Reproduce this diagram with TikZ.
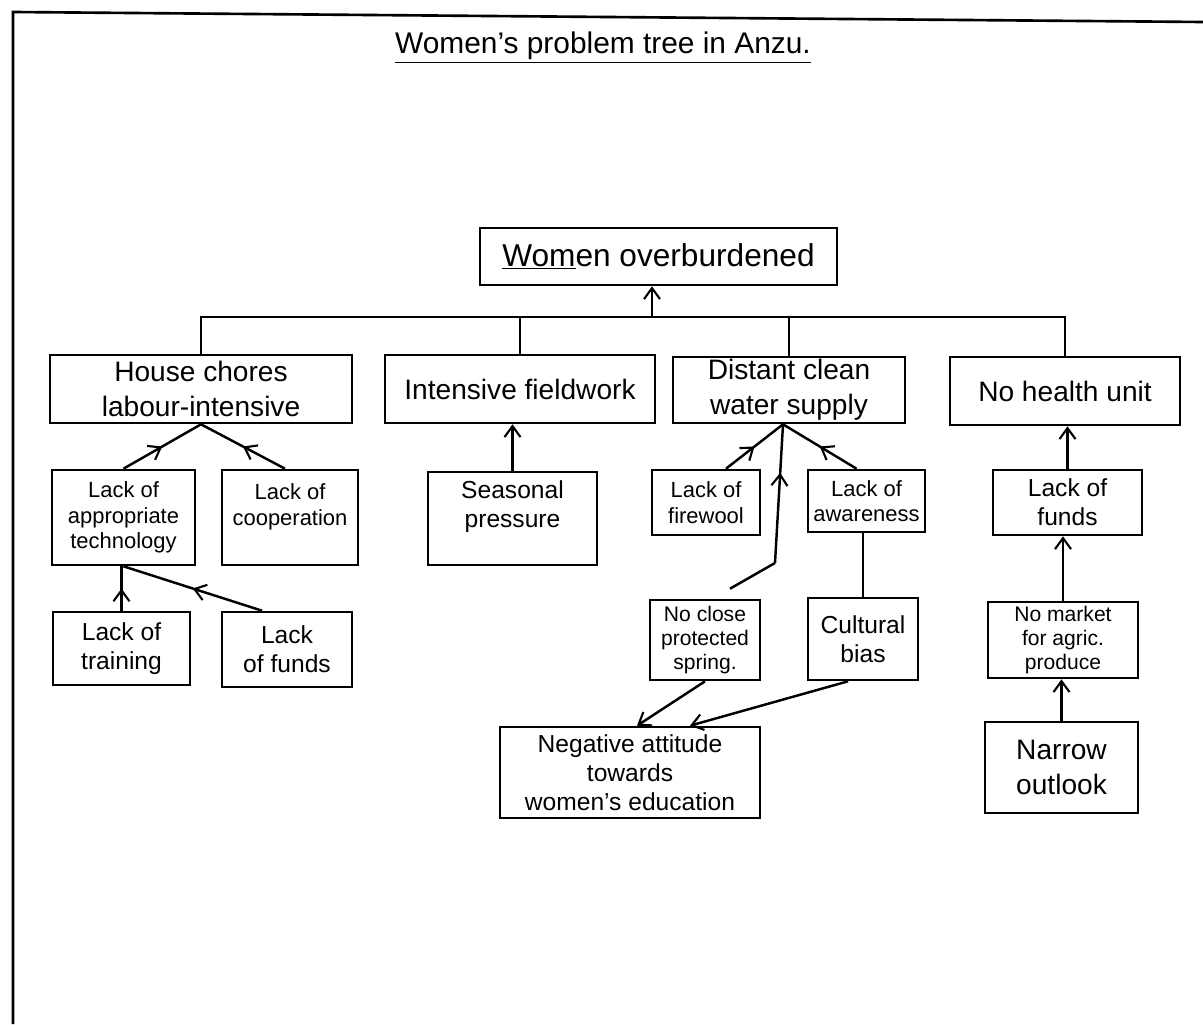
\documentclass[tikz,border=0pt]{standalone}
\usepackage{fontspec}
\setmainfont{Liberation Sans}
\usetikzlibrary{arrows.meta,calc,decorations.markings}
\tikzset{
  box/.style={draw,line width=1.5pt,inner sep=0pt,align=center},
  size/.style 2 args={minimum width=#1cm,minimum height=#2cm},
  big/.style={font=\fontsize{16}{20}\selectfont},
  mid/.style={font=\fontsize{14}{16.5}\selectfont},
  small/.style={font=\fontsize{12.5}{14.5}\selectfont},
  tiny/.style={font=\fontsize{12}{13.5}\selectfont},
  link/.style={line width=1.4pt},
  tip/.style={link,-{Straight Barb[length=2.2mm,width=3.2mm,line width=1.2pt]}},
  midtip/.style={link,postaction={decorate},
    decoration={markings,mark=at position #1 with {\arrow{Straight Barb[length=2.2mm,width=3.2mm,line width=1.2pt]}}}},
  midtip/.default=.5,
}

\begin{document}
\begin{tikzpicture}[x=0.02cm,y=-0.02cm]
  \useasboundingbox (0,0) rectangle (1203,1024);
  \draw[line width=1.5pt] (13,1024) -- (13,12) -- (1203,22);
  \node[font=\fontsize{17}{20}\selectfont] (title) at (603,48) {\underline{Women’s problem tree in Anzu.}};

  % ---------------- top problem ----------------
  \node[box,size={7.14}{1.14},font=\fontsize{18}{22}\selectfont] (root) at (658.5,256.5) {\underline{Wom}en overburdened};

  % ---------------- main causes ----------------
  \node[box,big,size={6.04}{1.36}] (house) at (201,389) {House chores\\labour-intensive};
  \node[box,big,size={5.4}{1.36}] (field) at (520,389) {Intensive fieldwork};
  \node[box,big,size={4.64}{1.32}] (water) at (789,390) {Distant clean\\water supply};
  \node[box,big,size={4.6}{1.36}] (health) at (1065,391) {No health unit};

  % ---------------- second level ----------------
  \node[box,small,size={2.86}{1.9}] (tech) at (123.5,517.5) {Lack of\\appropriate\\technology};
  \node[box,small,size={2.72}{1.9}] (coop) at (290,517.5) {Lack of\\cooperation\\\mbox{}};
  \node[box,mid,size={3.38}{1.86}] (season) at (512.5,518.5) {Seasonal\\pressure\\\mbox{}};
  \node[box,small,size={2.16}{1.3}] (firewood) at (706,502.5) {Lack of\\firewool};
  \node[box,small,size={2.34}{1.24}] (aware) at (866.5,501) {Lack of\\awareness};
  \node[box,mid,size={2.98}{1.3}] (fundsb) at (1067.5,502.5) {Lack of\\funds};

  % ---------------- third level ----------------
  \node[box,mid,size={2.74}{1.46}] (train) at (121.5,648.5) {Lack of\\training};
  \node[box,mid,size={2.6}{1.5}] (fundsa) at (287,649.5) {Lack\\of funds};
  \node[box,tiny,size={2.2}{1.6}] (spring) at (705,640) {No close\\protected\\spring.};
  \node[box,mid,size={2.2}{1.64}] (culture) at (863,639) {Cultural\\bias};
  \node[box,tiny,size={3.0}{1.52}] (market) at (1063,640) {No market\\for agric.\\produce};

  % ---------------- roots ----------------
  \node[box,mid,size={5.2}{1.82}] (attitude) at (630,772.5) {Negative attitude\\towards\\women’s education};
  \node[box,big,size={3.06}{1.82}] (narrow) at (1061.5,767.5) {Narrow\\outlook};

  % bracket under the top problem
  \coordinate (junc) at (652,317);
  \draw[link] (house.north) |- (junc) -| (health.north);
  \draw[link] (field.north) -- (field.north |- junc);
  \draw[link] (water.north) -- (water.north |- junc);
  \draw[tip] (junc) -- (junc |- root.south);

  % left branch
  \draw[midtip] (tech.north) -- (house.south);
  \draw[midtip] ([xshift=-0.1cm]coop.north) -- (house.south);
  \draw[midtip] (train.north) -- (train.north |- tech.south);
  \draw[midtip] ([xshift=-0.5cm]fundsa.north) -- (tech.south);
  \draw[tip] (season.north) -- (season.north |- field.south);

  % water branch
  \coordinate (wfoot) at ([xshift=-0.12cm]water.south);
  \coordinate (bend) at (775,563);
  \draw[midtip] ([xshift=0.4cm]firewood.north) -- (wfoot);
  \draw[midtip] ([xshift=-0.2cm]aware.north) -- (wfoot);
  \draw[link] ([xshift=0.5cm,yshift=0.2cm]spring.north) -- (bend);
  \draw[midtip=.65] (bend) -- (wfoot);
  \draw[link] (culture.north) -- (culture.north |- aware.south);
  \draw[tip] (spring.south) -- ([xshift=0.14cm]attitude.north);
  \draw[tip] ([xshift=-0.3cm]culture.south) -- ([xshift=1.2cm]attitude.north);

  % health branch
  \draw[tip] (fundsb.north) -- (fundsb.north |- health.south);
  \draw[tip] (market.north) -- (market.north |- fundsb.south);
  \draw[tip] (narrow.north) -- (narrow.north |- market.south);
\end{tikzpicture}
\end{document}
